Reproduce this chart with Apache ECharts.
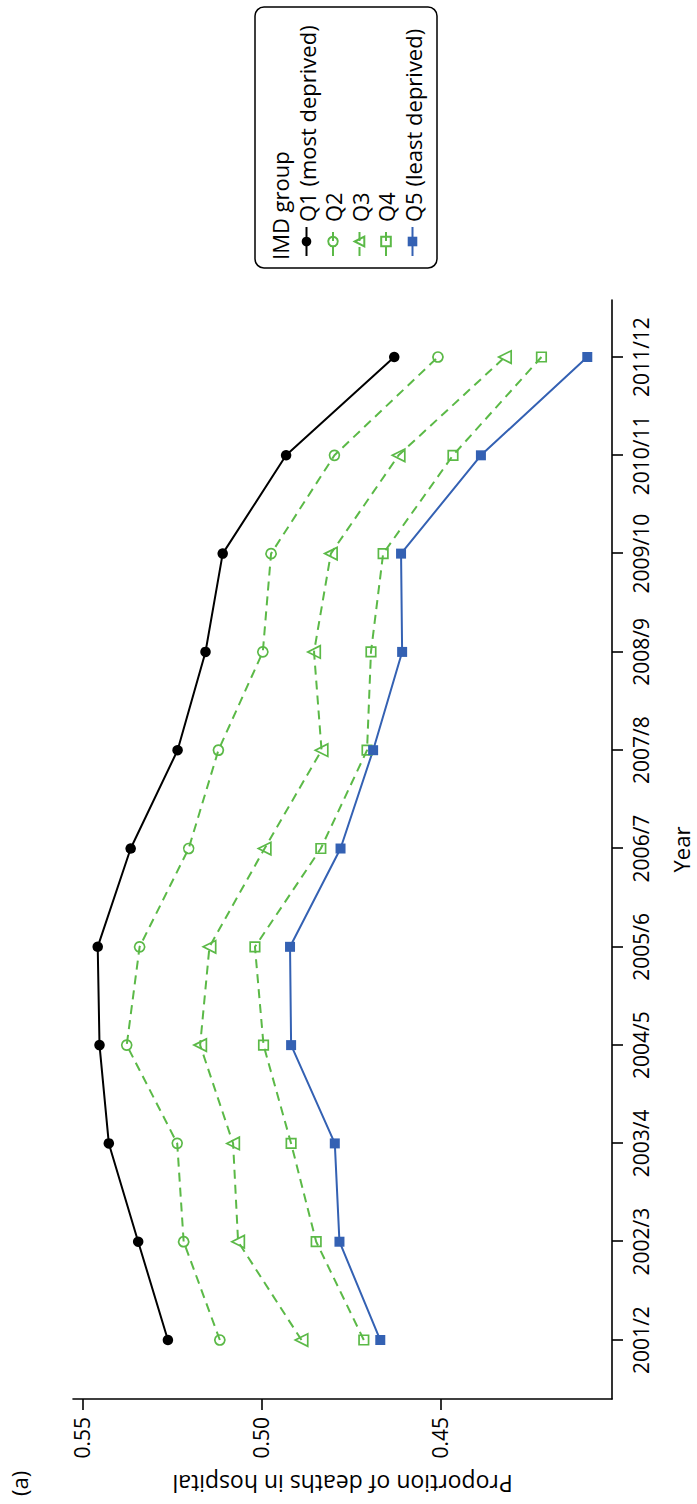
<!DOCTYPE html>
<html>
<head>
<meta charset="utf-8">
<script src="https://cdn.jsdelivr.net/npm/echarts@6/dist/echarts.min.js"></script>
<style>
html, body { margin:0; padding:0; width:697px; height:1504px; overflow:hidden; background:#fff; }
#chart { position:absolute; left:0; top:0; width:1504px; height:697px;
  transform-origin:0 0; transform:translate(0px,1504px) rotate(-90deg); }
</style>
</head>
<body>
<div id="chart"></div>
<script>
const years = ['2001/2','2002/3','2003/4','2004/5','2005/6','2006/7','2007/8','2008/9','2009/10','2010/11','2011/12'];
const q1 = [0.5261, 0.5344, 0.5426, 0.5452, 0.5457, 0.5365, 0.5234, 0.5156, 0.5108, 0.4931, 0.4629];
const q2 = [0.5116, 0.5217, 0.5235, 0.5376, 0.5340, 0.5203, 0.5120, 0.4996, 0.4973, 0.4796, 0.4507];
const q3 = [0.4888, 0.5065, 0.5079, 0.5171, 0.5145, 0.4991, 0.4832, 0.4853, 0.4806, 0.4617, 0.4320];
const q4 = [0.4714, 0.4847, 0.4917, 0.4994, 0.5018, 0.4834, 0.4705, 0.4694, 0.4660, 0.4465, 0.4218];
const q5 = [0.4668, 0.4782, 0.4795, 0.4917, 0.4920, 0.4779, 0.4688, 0.4607, 0.4610, 0.4387, 0.4090];
const seriesNames = ['Q1 (most deprived)', 'Q2', 'Q3', 'Q4', 'Q5 (least deprived)'];
const yTicks = [0.45, 0.50, 0.55];
const legendTitle = 'IMD group';
const xTitle = 'Year';
const yTitle = 'Proportion of deaths in hospital';
const panelLabel = '(a)';

const FONT = 'Open Sans';
const GREEN = '#5bb947';
const BLUE = '#3461b3';
const idx = years.map((_, i) => i);
const pairs = arr => arr.map((v, i) => [i, v]);

const chart = echarts.init(document.getElementById('chart'), null, {renderer:'svg', width:1504, height:697});

const baseSeries = (name, data, color, lineType, symbol, size, filled) => ({
  name, type:'line', data: pairs(data),
  symbol, symbolSize: size,
  lineStyle: { color, width: 2, type: lineType },
  itemStyle: filled ? { color } : { color: 'rgba(255,255,255,0)', borderColor: color, borderWidth: 1.7 },
  emphasis: { disabled: true },
  clip: false
});

chart.setOption({
  animation: false,
  backgroundColor: '#fff',
  textStyle: { fontFamily: FONT },
  grid: { left: 105, right: 300, top: 73, bottom: 81 },
  xAxis: {
    type: 'value', min: -0.6, max: 10.58,
    name: xTitle, nameLocation: 'middle', nameGap: 58,
    nameTextStyle: { fontSize: 22, color: '#000', fontFamily: FONT },
    axisLine: { show: true, onZero: false, lineStyle: { color: '#000', width: 1.6 } },
    axisTick: { show: true, length: 11, customValues: idx, lineStyle: { color: '#000', width: 1.6 } },
    axisLabel: { customValues: idx, formatter: v => years[Math.round(v)], fontSize: 21, color: '#000', margin: 18, fontFamily: FONT },
    splitLine: { show: false }
  },
  yAxis: {
    type: 'value', min: 0.4021, max: 0.5526,
    name: yTitle, nameLocation: 'middle', nameGap: 73,
    nameTextStyle: { fontSize: 23, color: '#000', fontFamily: FONT },
    axisLine: { show: true, onZero: false, lineStyle: { color: '#000', width: 1.6 } },
    axisTick: { show: true, length: 11, customValues: yTicks, lineStyle: { color: '#000', width: 1.6 } },
    axisLabel: { customValues: yTicks, formatter: v => v.toFixed(2), fontSize: 21, color: '#000', margin: 18, fontFamily: FONT },
    splitLine: { show: false }
  },
  legend: {
    orient: 'vertical', left: 1247, top: 295.5, padding: 0,
    itemWidth: 29, itemHeight: 12, itemGap: 4.5,
    textStyle: { fontSize: 22, lineHeight: 22, color: '#000', fontFamily: FONT },
    data: seriesNames
  },
  graphic: [
    { type: 'rect', shape: { x: 1236, y: 255, width: 261, height: 182, r: 9 },
      style: { fill: 'rgba(255,255,255,0)', stroke: '#000', lineWidth: 1.5 }, z: 0 },
    { type: 'text', x: 1244, y: 280,
      style: { text: legendTitle, fontSize: 22, fontFamily: FONT, fill: '#000', verticalAlign: 'middle', align: 'left' } },
    { type: 'text', x: 8, y: 19,
      style: { text: panelLabel, fontSize: 22, fontFamily: FONT, fill: '#000', verticalAlign: 'middle', align: 'left' } }
  ],
  series: [
    baseSeries(seriesNames[0], q1, '#000', 'solid', 'circle', 10.5, true),
    baseSeries(seriesNames[1], q2, GREEN, [9, 6], 'circle', 10, false),
    baseSeries(seriesNames[2], q3, GREEN, [9, 6], 'triangle', 12.5, false),
    baseSeries(seriesNames[3], q4, GREEN, [9, 6], 'rect', 9.5, false),
    baseSeries(seriesNames[4], q5, BLUE, 'solid', 'rect', 10, true)
  ]
});
</script>
</body>
</html>
